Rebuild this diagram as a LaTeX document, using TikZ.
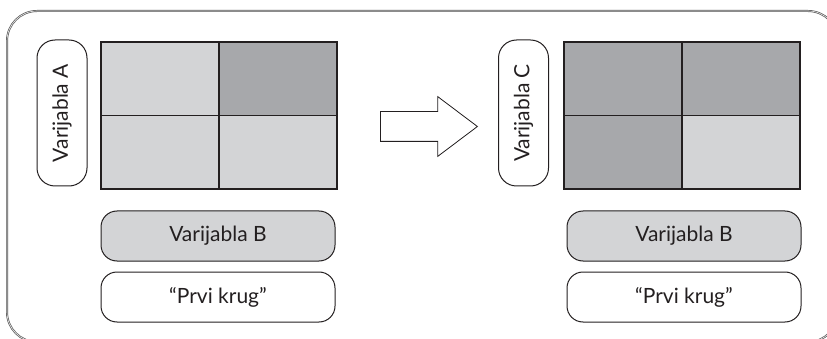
\documentclass[tikz,border=0pt]{standalone}
\usepackage{fontspec}
\setmainfont{Lato}
\usetikzlibrary{shapes.arrows}
\definecolor{lightcell}{RGB}{211,212,214}
\definecolor{darkcell}{RGB}{167,168,171}
\definecolor{edge}{RGB}{35,31,32}

\begin{document}
\begin{tikzpicture}[x=1pt,y=-1pt,
  cell/.style={draw=edge,line width=1.5pt,minimum width=118pt,minimum height=73.5pt,inner sep=0pt},
  namebox/.style={draw=edge,line width=1pt,rounded corners=16pt,minimum width=234pt,minimum height=50pt,text=edge,font=\fontsize{21}{23}\selectfont},
  sidebox/.style={draw=edge,line width=1pt,rounded corners=18pt,minimum width=146pt,minimum height=50pt,rotate=90,text=edge,font=\fontsize{21}{23}\selectfont}]
\useasboundingbox (0,0) rectangle (827,339);
% outer frame
\begin{scope}
\clip (0,0) rectangle (827,339);
\draw[draw=black!65,line width=0.7pt,double=white!85!gray,double distance=0.6pt,rounded corners=30pt] (7,11) rectangle (838,342);
\end{scope}
% first table
\node[sidebox] (varA) at (62,113) {Varijabla A};
\foreach \n/\x/\y/\c in {aTL/160/79/lightcell,aTR/278/79/darkcell,aBL/160/152.5/lightcell,aBR/278/152.5/lightcell}
\node[cell,fill=\c] (\n) at (\x,\y) {};
\node[namebox,fill=lightcell] (varBa) at (218,236) {Varijabla B};
\node[namebox] (krugA) at (218,297) {``Prvi krug''};
% arrow
\node[single arrow,draw=edge,line width=0.8pt,fill=white,minimum height=97pt,inner xsep=0pt,inner ysep=14.5pt,single arrow head extend=15pt,single arrow tip angle=74,anchor=tail] (step) at (380,126.5) {};
% second table
\node[sidebox] (varC) at (523.5,113) {Varijabla C};
\foreach \n/\x/\y/\c in {cTL/623/79/darkcell,cTR/741/79/darkcell,cBL/623/152.5/darkcell,cBR/741/152.5/lightcell}
\node[cell,fill=\c] (\n) at (\x,\y) {};
\node[namebox,fill=lightcell] (varBc) at (684,236) {Varijabla B};
\node[namebox] (krugC) at (684,297) {``Prvi krug''};
\end{tikzpicture}
\end{document}
